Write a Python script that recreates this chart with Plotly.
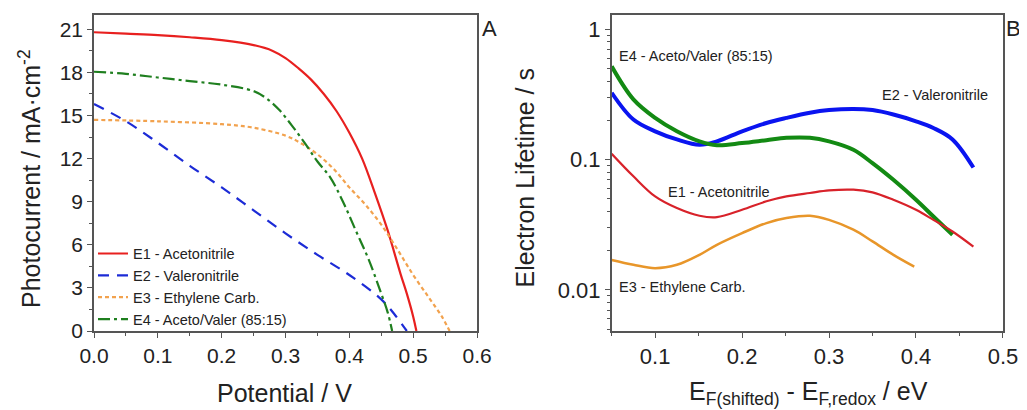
import math
import plotly.graph_objects as go

# ---------------- Panel A data: J-V curves ----------------
v_e1 = [0, 0.05, 0.1, 0.15, 0.2, 0.25, 0.28, 0.3, 0.32, 0.34, 0.36, 0.38, 0.4, 0.42, 0.44, 0.46, 0.48, 0.49, 0.5, 0.505]
j_e1 = [20.8, 20.7, 20.6, 20.45, 20.25, 19.9, 19.5, 19.0, 18.3, 17.5, 16.5, 15.3, 13.8, 12.0, 9.6, 7.0, 4.0, 2.6, 1.0, 0]

v_e2 = [0, 0.05, 0.1, 0.15, 0.2, 0.25, 0.3, 0.35, 0.4, 0.45, 0.47, 0.49]
j_e2 = [15.8, 14.6, 13.1, 11.5, 10.0, 8.4, 6.8, 5.3, 3.9, 2.2, 1.2, 0]

v_e3 = [0, 0.1, 0.2, 0.25, 0.3, 0.325, 0.35, 0.375, 0.4, 0.425, 0.45, 0.475, 0.5, 0.525, 0.545, 0.557]
j_e3 = [14.7, 14.6, 14.4, 14.15, 13.6, 13.05, 12.3, 11.3, 10.0, 8.8, 7.4, 5.7, 3.9, 2.3, 1.0, 0]

v_e4 = [0, 0.05, 0.1, 0.15, 0.2, 0.25, 0.27, 0.29, 0.31, 0.33, 0.35, 0.37, 0.39, 0.41, 0.43, 0.45, 0.46, 0.467]
j_e4 = [18.05, 17.9, 17.65, 17.4, 17.15, 16.7, 16.2, 15.4, 14.3, 13.1, 11.8, 10.7, 9.0, 7.0, 5.0, 2.6, 1.3, 0]

names = ["E1 - Acetonitrile", "E2 - Valeronitrile", "E3 - Ethylene Carb.", "E4 - Aceto/Valer (85:15)"]

# ---------------- Panel B data: electron lifetime ----------------
e_b = [0.05, 0.075, 0.1, 0.125, 0.151, 0.171, 0.2, 0.228, 0.251, 0.278, 0.3, 0.328, 0.35, 0.374, 0.4, 0.42, 0.442, 0.466]
tau_e1 = [0.111, 0.0745, 0.0522, 0.0425, 0.0371, 0.0362, 0.0412, 0.0479, 0.0522, 0.0555, 0.0581, 0.0588, 0.0561, 0.0492, 0.0412, 0.0345, 0.0281, 0.0215]
tau_e2 = [0.326, 0.203, 0.165, 0.143, 0.130, 0.138, 0.165, 0.191, 0.209, 0.229, 0.240, 0.245, 0.240, 0.222, 0.197, 0.175, 0.143, 0.087]
e_b3 = [0.05, 0.075, 0.1, 0.125, 0.151, 0.171, 0.2, 0.228, 0.251, 0.278, 0.3, 0.328, 0.35, 0.374, 0.398]
tau_e3 = [0.0170, 0.0156, 0.0147, 0.0156, 0.0186, 0.0222, 0.0273, 0.0326, 0.0356, 0.0371, 0.0345, 0.0290, 0.0236, 0.0186, 0.0151]
e_b4 = [0.05, 0.075, 0.1, 0.125, 0.151, 0.171, 0.2, 0.228, 0.251, 0.278, 0.3, 0.328, 0.35, 0.374, 0.4, 0.42, 0.442]
tau_e4 = [0.52, 0.290, 0.209, 0.165, 0.138, 0.129, 0.134, 0.141, 0.147, 0.147, 0.138, 0.119, 0.094, 0.070, 0.0492, 0.0366, 0.0265]

labels_b = ["E4 - Aceto/Valer (85:15)", "E2 - Valeronitrile", "E1 - Acetonitrile", "E3 - Ethylene Carb."]
label_x = [0.056, 0.359, 0.113, 0.056]
label_y = [0.62, 0.315, 0.056, 0.0106]

y_ticks_b = [1, 0.1, 0.01]
y_ticktext_b = ["1", "0.1", "0.01"]
y_minor_b = [m * d for d in (0.001, 0.01, 0.1) for m in range(2, 10)]

title_xa = "Potential / V"
title_ya = "Photocurrent / mA·cm<sup>-2</sup>"
title_xb = "E<sub>F(shifted)</sub> - E<sub>F,redox</sub> / eV"
title_yb = "Electron Lifetime / s"

FONT = "Liberation Sans, Arial, sans-serif"
TXT = "#222222"
AX = "#555555"
red_a, blue_a, orange_a, green_a = "#e8201f", "#1c2bd6", "#f2a24e", "#1f7f1f"
red_b, blue_b, orange_b, green_b = "#d8222a", "#0a14f0", "#e8962a", "#138a13"

fig = go.Figure()

fig.add_trace(go.Scatter(x=v_e1, y=j_e1, mode="lines", name=names[0], line=dict(color=red_a, width=2.2, shape="spline"), xaxis="x", yaxis="y"))
fig.add_trace(go.Scatter(x=v_e2, y=j_e2, mode="lines", name=names[1], line=dict(color=blue_a, width=2.2, dash="11px,8px", shape="spline"), xaxis="x", yaxis="y"))
fig.add_trace(go.Scatter(x=v_e3, y=j_e3, mode="lines", name=names[2], line=dict(color=orange_a, width=2.2, dash="4px,3px", shape="spline"), xaxis="x", yaxis="y"))
fig.add_trace(go.Scatter(x=v_e4, y=j_e4, mode="lines", name=names[3], line=dict(color=green_a, width=2.2, dash="12px,4px,3px,4px", shape="spline"), xaxis="x", yaxis="y"))

fig.add_trace(go.Scatter(x=e_b, y=tau_e2, mode="lines", showlegend=False, line=dict(color=blue_b, width=4, shape="spline"), xaxis="x2", yaxis="y2"))
fig.add_trace(go.Scatter(x=e_b4, y=tau_e4, mode="lines", showlegend=False, line=dict(color=green_b, width=4, shape="spline"), xaxis="x2", yaxis="y2"))
fig.add_trace(go.Scatter(x=e_b, y=tau_e1, mode="lines", showlegend=False, line=dict(color=red_b, width=2.2, shape="spline"), xaxis="x2", yaxis="y2"))
fig.add_trace(go.Scatter(x=e_b3, y=tau_e3, mode="lines", showlegend=False, line=dict(color=orange_b, width=2.5, shape="spline"), xaxis="x2", yaxis="y2"))

axis_common = dict(showline=True, linecolor=AX, linewidth=1.5, mirror=True, showgrid=False, zeroline=False,
                   ticks="outside", ticklen=5, tickwidth=1.2, tickcolor=AX, automargin=False)

# The page body adds an 8px margin; the figure extends to the window's bottom/right edges.
fig.update_layout(
    template="none",
    width=1019, height=402,
    margin=dict(l=0, r=0, t=0, b=0, autoexpand=False),
    paper_bgcolor="white", plot_bgcolor="white",
    font=dict(family=FONT, color=TXT),
    xaxis=dict(domain=[0.0844, 0.4603], range=[0, 0.6], dtick=0.1, tick0=0, tickformat=".1f", anchor="y",
               tickfont=dict(size=21, color=TXT),
               minor=dict(ticks="outside", dtick=0.05, tick0=0, ticklen=3, tickcolor=AX), **axis_common),
    yaxis=dict(domain=[0.1965, 0.9826], range=[0, 22], dtick=3, tick0=0, anchor="x",
               tickfont=dict(size=21, color=TXT),
               minor=dict(ticks="outside", dtick=1.5, tick0=0, ticklen=3, tickcolor=AX), **axis_common),
    xaxis2=dict(domain=[0.5924, 0.9764], range=[0.05, 0.5], dtick=0.1, tick0=0, tickformat=".1f", anchor="y2",
                tickfont=dict(size=22, color=TXT),
                minor=dict(ticks="outside", dtick=0.05, tick0=0, ticklen=3, tickcolor=AX), **axis_common),
    yaxis2=dict(domain=[0.1965, 0.9826], type="log", range=[-2.315, 0.11], anchor="x2",
                tickmode="array", tickvals=y_ticks_b, ticktext=y_ticktext_b,
                tickfont=dict(size=22, color=TXT),
                minor=dict(ticks="outside", tickmode="array", tickvals=y_minor_b, ticklen=3, tickcolor=AX), **axis_common),
    legend=dict(x=0.0834, y=0.4289, xanchor="left", yanchor="top", bgcolor="rgba(0,0,0,0)", borderwidth=0,
                font=dict(size=14.5, family=FONT, color=TXT), itemwidth=30, tracegroupgap=0),
    showlegend=True,
)

for txt, lx, ly in zip(labels_b, label_x, label_y):
    fig.add_annotation(x=lx, y=math.log10(ly), xref="x2", yref="y2", text=txt, showarrow=False,
                       xanchor="left", yanchor="middle", font=dict(size=14.5, family=FONT, color=TXT))

# axis titles
title_font = dict(size=25, family=FONT, color=TXT)
fig.add_annotation(x=0.2718, y=0.0423, xref="paper", yref="paper", text=title_xa, showarrow=False,
                   xanchor="center", yanchor="middle", font=title_font)
fig.add_annotation(x=0.786, y=0.0435, xref="paper", yref="paper", text=title_xb, showarrow=False,
                   xanchor="center", yanchor="middle", font=title_font)
fig.add_annotation(x=0.0216, y=0.5746, xref="paper", yref="paper", text=title_ya, showarrow=False, textangle=-90,
                   xanchor="center", yanchor="middle", font=title_font)
fig.add_annotation(x=0.5074, y=0.5784, xref="paper", yref="paper", text=title_yb, showarrow=False, textangle=-90,
                   xanchor="center", yanchor="middle", font=title_font)

fig.add_annotation(x=0.4632, y=0.9502, xref="paper", yref="paper", text="A", showarrow=False,
                   xanchor="left", yanchor="middle", font=dict(size=22, family=FONT, color=TXT))
fig.add_annotation(x=0.9774, y=0.9502, xref="paper", yref="paper", text="B", showarrow=False,
                   xanchor="left", yanchor="middle", font=dict(size=22, family=FONT, color=TXT))

fig.write_html("out.html")
